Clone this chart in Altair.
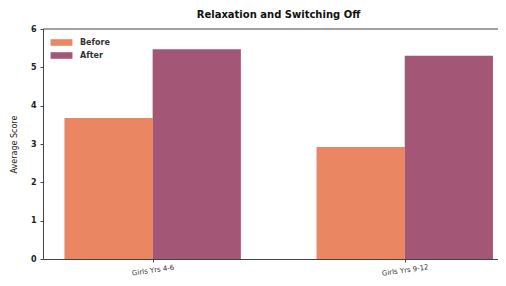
import altair as alt
import pandas as pd

categories = ["Girls Yrs 4-6", "Girls Yrs 9-12"]
series = ["Before", "After"]
before = [3.68, 2.92]
after = [5.47, 5.30]
colors = ["#e9805a", "#9e4d6e"]

bar_w = 0.35
rows = []
for i, cat in enumerate(categories):
    rows.append({"cat": cat, "series": "Before", "x0": i - bar_w, "x1": i, "value": before[i]})
    rows.append({"cat": cat, "series": "After", "x0": i, "x1": i + bar_w, "value": after[i]})
df = pd.DataFrame(rows)

label_expr = "datum.value == 0 ? '%s' : datum.value == 1 ? '%s' : ''" % (categories[0], categories[1])

xscale = alt.Scale(domain=[-0.435, 1.37], nice=False, zero=False)
yscale = alt.Scale(domain=[0, 6], nice=False)

bars = alt.Chart(df).mark_bar(opacity=0.95).encode(
    x=alt.X("x0:Q", scale=xscale,
            axis=alt.Axis(values=[0, 1], labelExpr=label_expr, title=None, grid=False,
                          labelAngle=352, labelAlign="center", labelBaseline="middle",
                          labelPadding=8, labelFontSize=7, labelColor="#333",
                          tickSize=3, domainColor="#444", tickColor="#444",
                          labelFont="DejaVu Sans", labelBound=False, labelFlush=False)),
    x2="x1:Q",
    y=alt.Y("value:Q", scale=yscale,
            axis=alt.Axis(values=[0, 1, 2, 3, 4, 5, 6], title="Average Score", grid=False,
                          labelOverlap=False,
                          titleFontSize=8, titleFontWeight="normal", titleColor="#222",
                          labelFontSize=8, labelFontWeight="bold", labelColor="#222",
                          tickSize=3, labelPadding=4, titlePadding=12,
                          domainColor="#444", tickColor="#444", labelFont="DejaVu Sans",
                          titleFont="DejaVu Sans")),
    y2=alt.datum(0),
    color=alt.Color("series:N", scale=alt.Scale(domain=series, range=colors),
                    legend=alt.Legend(title=None, orient="none", legendX=13, legendY=8,
                                      symbolType="M-2,-0.6h4v1.2h-4z", symbolSize=120,
                                      symbolOpacity=0.95, symbolStrokeWidth=0,
                                      labelFontSize=8, labelFont="DejaVu Sans",
                                      labelFontWeight="bold", labelColor="#333",
                                      rowPadding=3, labelOffset=13)),
)

# top spine of the frame
top_line = alt.Chart(pd.DataFrame({"a": [0]})).mark_rule(color="#444", strokeWidth=1).encode(
    y=alt.value(0)
)

chart = alt.layer(bars, top_line).properties(
    width=455, height=230,
    title=alt.TitleParams("Relaxation and Switching Off", fontSize=10, fontWeight="bold",
                          anchor="middle", font="DejaVu Sans", color="#111", offset=5, dx=8),
    autosize=alt.AutoSizeParams(type="none"),
    padding={"left": 35, "top": 21, "right": 0, "bottom": 19},
).configure_view(stroke=None)

chart.save("out.html", embed_options={"renderer": "svg", "actions": False})
